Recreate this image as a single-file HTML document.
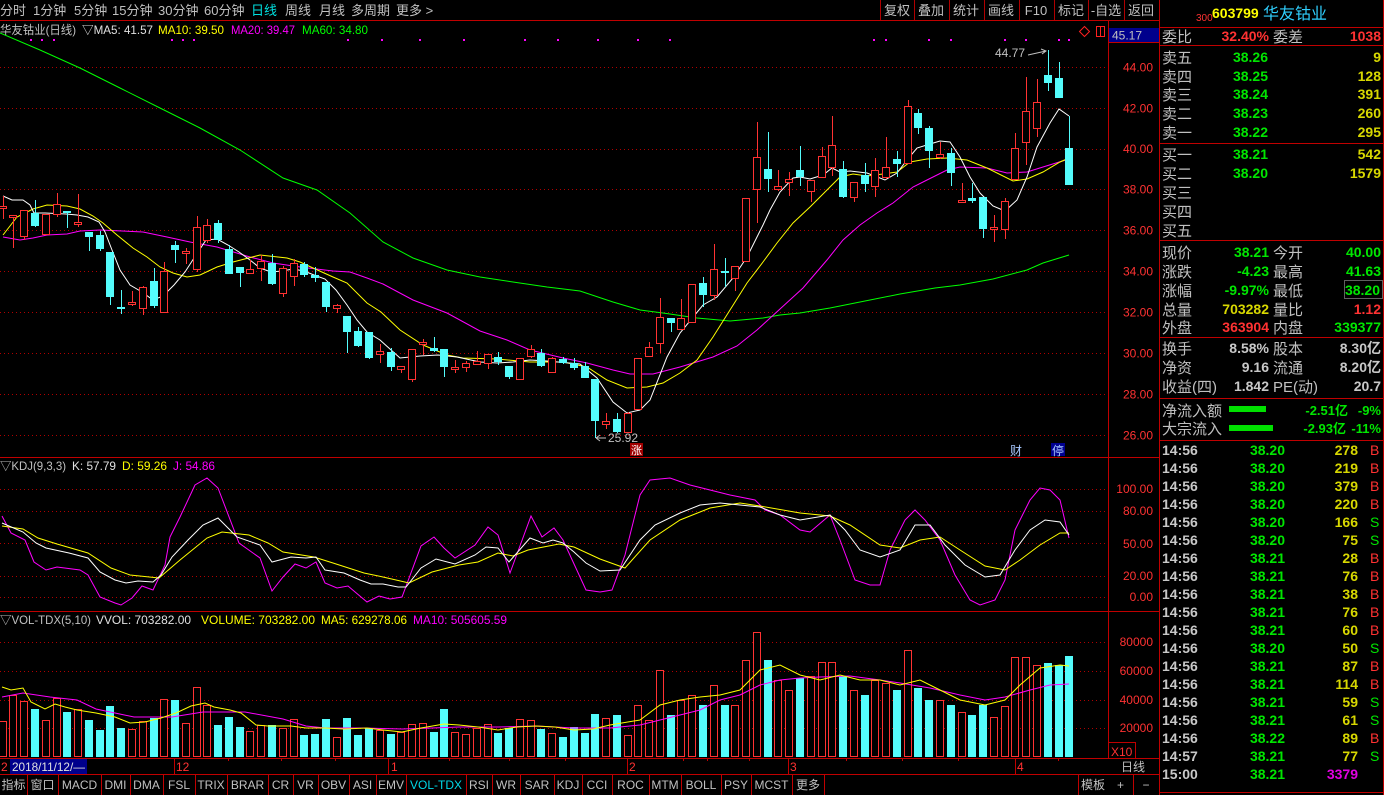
<!DOCTYPE html>
<html><head><meta charset="utf-8"><style>
html,body{margin:0;padding:0;background:#000;}
svg{display:block;}
text{font-family:'Liberation Sans','Noto Sans CJK SC',sans-serif;}
.g{fill:#c0c0c0}
.r{fill:#ff3232}
.gr{fill:#00e600}
.y{fill:#d8d800}
.w{fill:#c8c8c8}
.ax{fill:#ff3232;font-size:12px}
.pn{font-size:15px;fill:#c0c0c0}
.nb{font-size:14px;font-weight:bold}
.tb{font-size:12px;fill:#c0c0c0;text-anchor:middle}
</style></head><body>
<svg width="1384" height="795" viewBox="0 0 1384 795" xmlns="http://www.w3.org/2000/svg">
<rect x="0" y="0" width="1384" height="795" fill="#000"/>

<!-- top toolbar -->
<g font-size="13" class="g">
<text x="0" y="15" class="g">分时</text>
<text x="33" y="15" class="g">1分钟</text>
<text x="74" y="15" class="g">5分钟</text>
<text x="112" y="15" class="g">15分钟</text>
<text x="158" y="15" class="g">30分钟</text>
<text x="204" y="15" class="g">60分钟</text>
<text x="251" y="15" fill="#00e0e0">日线</text>
<text x="285" y="15" class="g">周线</text>
<text x="319" y="15" class="g">月线</text>
<text x="351" y="15" class="g">多周期</text>
<text x="396" y="15" class="g">更多 &gt;</text>
</g>
<g font-size="13" class="g" text-anchor="middle">
<text x="897" y="15" class="g">复权</text>
<text x="931" y="15" class="g">叠加</text>
<text x="966" y="15" class="g">统计</text>
<text x="1001" y="15" class="g">画线</text>
<text x="1036" y="15" class="g">F10</text>
<text x="1071" y="15" class="g">标记</text>
<text x="1106" y="15" class="g">-自选</text>
<text x="1141" y="15" class="g">返回</text>
</g>
<path d="M880.5 0V20M914.5 0V20M949.5 0V20M984.5 0V20M1019.5 0V20M1054.5 0V20M1088.5 0V20M1124.5 0V20" stroke="#b00000" shape-rendering="crispEdges"/>

<!-- frame lines -->
<g stroke="#c00000" shape-rendering="crispEdges" fill="none">
<path d="M0 20.5H1159M0 457.5H1159M0 611.5H1159M0 758.5H1159M0 774.5H1159"/>
<path d="M1108.5 21V758M1159.5 0V795M1383.5 0V795"/>
<path d="M1160 27.5H1384M1160 45.5H1384M1160 143.5H1384M1160 240.5H1384M1160 337.5H1384M1160 398.5H1384M1160 440.5H1384M1160 792.5H1384"/>
<path d="M1108 42.5H1159"/>
<path d="M1135.5 742V758M1108 742.5H1135"/>
<path d="M174.5 758V774M388.5 758V774M627.5 758V774M788.5 758V774M1015.5 758V774"/>
<path d="M228.5 758V761M281.5 758V761M335.5 758V761M449.5 758V761M509.5 758V761M565.5 758V761M683.5 758V761M707.5 758V761M749.5 758V761M846.5 758V761M902.5 758V761M958.5 758V761M1058.5 758V761"/>
<path d="M27.5 775V795M58.5 775V795M101.5 775V795M130.5 775V795M163.5 775V795M195.5 775V795M227.5 775V795M268.5 775V795M293.5 775V795M318.5 775V795M349.5 775V795M376.5 775V795M406.5 775V795M466.5 775V795M492.5 775V795M520.5 775V795M554.5 775V795M582.5 775V795M612.5 775V795M649.5 775V795M681.5 775V795M721.5 775V795M751.5 775V795M792.5 775V795M824.5 775V795M1078.5 775V795M1133.5 775V795"/>
</g>

<!-- grids -->
<g stroke="#b00000" stroke-dasharray="1 3" shape-rendering="crispEdges">
<path d="M0 67.5H1108M0 108.5H1108M0 149.5H1108M0 189.5H1108M0 230.5H1108M0 271.5H1108M0 312.5H1108M0 353.5H1108M0 394.5H1108M0 435.5H1108"/>
<path d="M0 489.5H1108M0 511.5H1108M0 543.5H1108M0 576.5H1108M0 597.5H1108"/>
<path d="M0 642.5H1108M0 671.5H1108M0 700.5H1108M0 728.5H1108"/>
</g>

<!-- main header -->
<g font-size="12">
<text x="0" y="34" class="g" textLength="76" lengthAdjust="spacingAndGlyphs">华友钴业(日线)</text>
<text x="82" y="34" fill="#e0e0e0" textLength="71" lengthAdjust="spacingAndGlyphs">▽MA5: 41.57</text>
<text x="158" y="34" fill="#ffff00" textLength="66" lengthAdjust="spacingAndGlyphs">MA10: 39.50</text>
<text x="231" y="34" fill="#ff00ff" textLength="64" lengthAdjust="spacingAndGlyphs">MA20: 39.47</text>
<text x="302" y="34" fill="#00ff00" textLength="66" lengthAdjust="spacingAndGlyphs">MA60: 34.80</text>
</g>
<g fill="#ff00ff">
<rect x="30" y="39" width="2" height="2"/><rect x="41" y="39" width="2" height="2"/><rect x="53" y="39" width="2" height="2"/>
<rect x="171" y="39" width="2" height="2"/><rect x="182" y="39" width="2" height="2"/><rect x="193" y="39" width="2" height="2"/>
<rect x="347" y="39" width="2" height="2"/><rect x="381" y="39" width="2" height="2"/><rect x="419" y="39" width="2" height="2"/>
<rect x="463" y="39" width="2" height="2"/><rect x="524" y="39" width="2" height="2"/><rect x="557" y="39" width="2" height="2"/>
<rect x="597" y="39" width="2" height="2"/><rect x="637" y="39" width="2" height="2"/><rect x="669" y="39" width="2" height="2"/>
<rect x="873" y="39" width="2" height="2"/><rect x="885" y="39" width="2" height="2"/><rect x="928" y="39" width="2" height="2"/>
<rect x="950" y="39" width="2" height="2"/><rect x="1004" y="39" width="2" height="2"/><rect x="1025" y="39" width="2" height="2"/>
<rect x="1058" y="39" width="2" height="2"/><rect x="1068" y="39" width="2" height="2"/>
</g>
<path d="M1084.5 26.5L1089.5 31.5L1084.5 36.5L1079.5 31.5Z" fill="none" stroke="#ff2020"/>
<rect x="1096.5" y="26.5" width="8" height="10" fill="none" stroke="#ff2020"/>
<path d="M1100.5 27V36" stroke="#ff2020"/>

<!-- price axis -->
<rect x="1109" y="28" width="50" height="14" fill="#00008c"/>
<text x="1112" y="39.5" font-size="12" class="g">45.17</text>
<g class="ax" text-anchor="end">
<text x="1153" y="71.5">44.00</text>
<text x="1153" y="112.5">42.00</text>
<text x="1153" y="153">40.00</text>
<text x="1153" y="193.5">38.00</text>
<text x="1153" y="234.5">36.00</text>
<text x="1153" y="275.5">34.00</text>
<text x="1153" y="316.5">32.00</text>
<text x="1153" y="357.5">30.00</text>
<text x="1153" y="398.5">28.00</text>
<text x="1153" y="439.5">26.00</text>
<text x="1153" y="493">100.00</text>
<text x="1153" y="515">80.00</text>
<text x="1153" y="548">50.00</text>
<text x="1153" y="580">20.00</text>
<text x="1153" y="601">0.00</text>
<text x="1153" y="646">80000</text>
<text x="1153" y="675">60000</text>
<text x="1153" y="704">40000</text>
<text x="1153" y="732">20000</text>
</g>
<text x="1111" y="756" font-size="12" class="r">X10</text>

<!-- MA60 -->
<polyline fill="none" stroke="#00ff00" points="0,33 40,50 80,68 120,88 160,108 200,128 240,150 283,178 317,190 350,213 383,242 413,258 447,270 480,277 513,282 547,287 580,291 613,302 640,310 663,313 697,318 730,321 763,318 780,315 800,313 830,308 870,300 900,294 935,288 960,285 993,279 1027,270 1043,263 1069,255"/>
<!-- MA20 -->
<polyline fill="none" stroke="#ff00ff" points="3,237 20,240 33,238 47,235 67,234 80,231 100,230 143,232 167,237 190,242 217,247 250,257 273,263 300,267 333,271 350,272 367,278 383,284 413,300 447,313 480,331 507,340 530,350 563,358 587,363 613,370 630,374 653,374 680,367 713,357 737,346 757,330 780,309 803,288 827,260 843,240 860,225 877,213 893,203 913,187 927,180 947,170 960,167 987,168 1007,173 1027,172 1043,167 1069,159"/>
<!-- MA10 -->
<polyline fill="none" stroke="#ffff00" points="3,235 17,217 33,209 47,205 67,206 80,209 93,216 103,223 117,235 133,248 147,257 160,267 173,273 187,277 200,275 217,267 233,262 260,255 287,258 300,262 313,268 333,277 347,283 367,303 381,312 400,330 423,345 447,355 463,358 497,359 530,362 563,362 587,367 607,380 627,388 647,387 663,383 680,373 697,360 713,337 730,310 747,283 763,262 777,243 793,223 810,207 827,190 840,177 853,174 867,176 883,174 897,172 910,162 927,159 947,158 967,160 987,168 1013,181 1027,179 1043,172 1060,162 1069,158"/>
<!-- MA5 -->
<polyline fill="none" stroke="#ffffff" points="3,196 12,200 23,200 30,205 34,213 45,213 66,214 77,215 88,217 99,222 105,232 112,250 120,270 130,285 142,292 153,300 163,296 174,285 185,272 196,255 206,240 217,239 228,245 239,252 250,260 260,268 271,272 282,271 293,269 304,271 314,275 325,279 336,290 347,305 357,320 367,332 380,340 400,358 420,356 438,355 457,357 480,362 497,363 513,362 530,360 547,361 580,364 597,378 613,402 627,413 640,410 650,400 667,357 680,333 703,305 717,297 733,278 747,257 763,225 770,210 780,192 793,178 800,177 810,179 823,175 832,168 840,172 850,171 867,173 885,180 897,173 907,160 917,148 930,144 940,141 950,142 960,157 970,177 980,193 993,206 1005,211 1017,200 1027,177 1037,147 1050,123 1059,109 1069,116"/>

<!-- candles -->
<g shape-rendering="crispEdges">
<path stroke="#ff3232" fill="none" d="M3.5 196V219M13.5 215V248M24.5 210V240M46.5 214V234M57.5 193V217M78.5 194V227M132.5 291V306M143.5 286V315M164.5 262V313M186.5 248V264M197.5 216V272M207.5 219V243M250.5 260V273M261.5 255V281M283.5 266V297M294.5 259V286M337.5 304V313M380.5 344V363M401.5 366V373M412.5 349V382M423.5 339V355M455.5 360V373M466.5 361V372M477.5 351V364M488.5 354V369M520.5 358V380M531.5 345V358M552.5 357V372M606.5 413V429M628.5 412V432M638.5 358V410M649.5 342V356M660.5 298V353M681.5 299V329M692.5 284V322M714.5 244V300M735.5 266V291M746.5 198V261M757.5 122V223M778.5 170V191M789.5 172V196M811.5 180V202M822.5 147V177M832.5 116V176M854.5 182V202M875.5 158V197M886.5 137V179M908.5 100V163M940.5 142V159M962.5 183V203M994.5 215V242M1005.5 198V239M1015.5 133V179M1026.5 77V165M1037.5 79V137"/>
<path stroke="#54fcfc" fill="none" d="M35.5 200V227M67.5 211V228M89.5 232V251M100.5 231V251M110.5 252V305M121.5 290V314M154.5 268V308M175.5 241V263M218.5 220V243M229.5 245V274M240.5 267V287M272.5 254V285M304.5 262V277M315.5 267V282M326.5 282V312M347.5 316V353M358.5 327V347M369.5 332V359M391.5 348V371M434.5 337V352M444.5 349V377M498.5 352V365M509.5 366V379M541.5 349V367M563.5 357V364M574.5 358V370M585.5 362V378M595.5 379V438M617.5 413V433M671.5 318V332M703.5 277V307M725.5 258V287M768.5 132V192M800.5 146V186M843.5 161V198M865.5 163V192M897.5 151V177M918.5 109V134M929.5 126V168M951.5 148V186M972.5 183V203M983.5 197V238M1048.5 50V91M1059.5 62V98M1069.5 116V185"/>
<g fill="#000" stroke="#ff3232">
<rect x="-0.5" y="206.5" width="7" height="2"/><rect x="9.5" y="215.5" width="7" height="2"/><rect x="20.5" y="210.5" width="7" height="26"/><rect x="42.5" y="214.5" width="7" height="20"/><rect x="53.5" y="204.5" width="7" height="10"/><rect x="74.5" y="222.5" width="7" height="2"/><rect x="128.5" y="302.5" width="7" height="2"/><rect x="139.5" y="287.5" width="7" height="21"/><rect x="160.5" y="271.5" width="7" height="41"/><rect x="182.5" y="251.5" width="7" height="2"/><rect x="193.5" y="227.5" width="7" height="42"/><rect x="203.5" y="225.5" width="7" height="15"/><rect x="246.5" y="269.5" width="7" height="4"/><rect x="257.5" y="261.5" width="7" height="7"/><rect x="279.5" y="268.5" width="7" height="25"/><rect x="290.5" y="263.5" width="7" height="13"/><rect x="333.5" y="305.5" width="7" height="3"/><rect x="376.5" y="351.5" width="7" height="3"/><rect x="397.5" y="366.5" width="7" height="3"/><rect x="408.5" y="349.5" width="7" height="30"/><rect x="419.5" y="342.5" width="7" height="2"/><rect x="451.5" y="367.5" width="7" height="2"/><rect x="462.5" y="363.5" width="7" height="4"/><rect x="473.5" y="361.5" width="7" height="3"/><rect x="484.5" y="354.5" width="7" height="9"/><rect x="516.5" y="358.5" width="7" height="21"/><rect x="527.5" y="349.5" width="7" height="7"/><rect x="548.5" y="358.5" width="7" height="14"/><rect x="602.5" y="421.5" width="7" height="3"/><rect x="624.5" y="413.5" width="7" height="19"/><rect x="634.5" y="358.5" width="7" height="51"/><rect x="645.5" y="347.5" width="7" height="9"/><rect x="656.5" y="317.5" width="7" height="26"/><rect x="677.5" y="318.5" width="7" height="11"/><rect x="688.5" y="284.5" width="7" height="38"/><rect x="710.5" y="269.5" width="7" height="26"/><rect x="731.5" y="266.5" width="7" height="12"/><rect x="742.5" y="198.5" width="7" height="63"/><rect x="753.5" y="157.5" width="7" height="32"/><rect x="774.5" y="186.5" width="7" height="3"/><rect x="785.5" y="179.5" width="7" height="3"/><rect x="807.5" y="180.5" width="7" height="11"/><rect x="818.5" y="156.5" width="7" height="21"/><rect x="828.5" y="145.5" width="7" height="22"/><rect x="850.5" y="182.5" width="7" height="15"/><rect x="871.5" y="170.5" width="7" height="16"/><rect x="882.5" y="167.5" width="7" height="10"/><rect x="904.5" y="106.5" width="7" height="57"/><rect x="936.5" y="154.5" width="7" height="3"/><rect x="958.5" y="200.5" width="7" height="2"/><rect x="990.5" y="227.5" width="7" height="2"/><rect x="1001.5" y="201.5" width="7" height="28"/><rect x="1011.5" y="148.5" width="7" height="31"/><rect x="1022.5" y="111.5" width="7" height="31"/><rect x="1033.5" y="102.5" width="7" height="26"/>
</g>
<g fill="#54fcfc">
<rect x="31" y="213" width="8" height="13"/><rect x="63" y="211" width="8" height="2"/><rect x="85" y="232" width="8" height="5"/><rect x="96" y="235" width="8" height="14"/><rect x="106" y="252" width="8" height="45"/><rect x="117" y="307" width="8" height="2"/><rect x="150" y="281" width="8" height="25"/><rect x="171" y="245" width="8" height="5"/><rect x="214" y="223" width="8" height="17"/><rect x="225" y="249" width="8" height="25"/><rect x="236" y="267" width="8" height="6"/><rect x="268" y="263" width="8" height="21"/><rect x="300" y="264" width="8" height="11"/><rect x="311" y="275" width="8" height="3"/><rect x="322" y="282" width="8" height="25"/><rect x="343" y="316" width="8" height="16"/><rect x="354" y="331" width="8" height="15"/><rect x="365" y="332" width="8" height="26"/><rect x="387" y="352" width="8" height="15"/><rect x="430" y="348" width="8" height="3"/><rect x="440" y="349" width="8" height="18"/><rect x="494" y="357" width="8" height="5"/><rect x="505" y="366" width="8" height="11"/><rect x="537" y="353" width="8" height="13"/><rect x="559" y="359" width="8" height="4"/><rect x="570" y="363" width="8" height="5"/><rect x="581" y="366" width="8" height="12"/><rect x="591" y="379" width="8" height="42"/><rect x="613" y="419" width="8" height="13"/><rect x="667" y="318" width="8" height="5"/><rect x="699" y="283" width="8" height="12"/><rect x="721" y="271" width="8" height="2"/><rect x="764" y="169" width="8" height="10"/><rect x="796" y="170" width="8" height="7"/><rect x="839" y="169" width="8" height="28"/><rect x="861" y="175" width="8" height="9"/><rect x="893" y="159" width="8" height="5"/><rect x="914" y="113" width="8" height="15"/><rect x="925" y="128" width="8" height="23"/><rect x="947" y="153" width="8" height="20"/><rect x="968" y="198" width="8" height="3"/><rect x="979" y="197" width="8" height="32"/><rect x="1044" y="75" width="8" height="8"/><rect x="1055" y="78" width="8" height="20"/><rect x="1065" y="148" width="8" height="37"/>
</g>
</g>

<!-- annotations -->
<text x="995" y="57" font-size="12" class="g">44.77</text>
<path d="M1028 55L1046 51M1041 49L1046 51L1042 54" stroke="#c0c0c0" fill="none"/>
<path d="M596 438H606M596 438L600 435M596 438L600 441" stroke="#c0c0c0" fill="none"/>
<text x="608" y="442" font-size="12" class="g">25.92</text>
<rect x="630" y="443" width="13" height="13" fill="#a00000"/>
<text x="631" y="454" font-size="11" fill="#ffffff">涨</text>
<text x="1010" y="455" font-size="12" fill="#a8c8ff">财</text>
<rect x="1051" y="443" width="14" height="13" fill="#000090"/>
<text x="1052" y="455" font-size="12" fill="#a8c8ff">停</text>

<!-- KDJ -->
<g font-size="12">
<text x="0" y="470" class="g" textLength="66" lengthAdjust="spacingAndGlyphs">▽KDJ(9,3,3)</text>
<text x="72" y="470" fill="#e0e0e0" textLength="44" lengthAdjust="spacingAndGlyphs">K: 57.79</text>
<text x="122" y="470" fill="#ffff00" textLength="45" lengthAdjust="spacingAndGlyphs">D: 59.26</text>
<text x="173" y="470" fill="#ff00ff" textLength="42" lengthAdjust="spacingAndGlyphs">J: 54.86</text>
</g>
<polyline fill="none" stroke="#ff00ff" points="2,516 11,533 25,540 34,562 46,570 57,567 80,570 88,575 100,597 115,603 121,605 132,598 142,586 153,590 165,565 170,537 180,517 195,485 207,478 218,488 239,543 260,558 272,591 283,577 295,564 306,568 316,562 325,583 337,588 348,586 367,602 379,596 390,599 402,597 421,546 434,537 444,548 455,558 475,545 488,527 498,535 510,573 531,516 542,537 554,528 563,540 586,590 600,592 612,590 625,555 640,495 650,480 670,478 690,485 710,490 730,495 755,500 765,510 780,515 800,530 810,532 830,515 840,540 855,580 870,585 880,585 890,550 905,520 915,510 925,520 940,540 955,575 970,600 980,605 995,600 1005,580 1015,530 1030,500 1040,488 1050,490 1060,500 1069,538"/>
<polyline fill="none" stroke="#ffff00" points="2,526 23,529 38,538 57,544 88,553 111,568 130,575 159,578 180,560 207,538 222,532 249,535 268,543 283,552 314,557 333,563 364,573 383,577 409,583 432,572 459,565 478,562 498,553 513,556 528,550 559,544 574,547 600,559 625,568 650,540 680,520 710,508 740,503 760,506 800,513 830,516 850,525 880,545 900,548 920,540 940,537 960,550 985,566 1005,570 1020,560 1040,545 1060,533 1069,533"/>
<polyline fill="none" stroke="#ffffff" points="2,523 23,532 36,543 46,548 69,553 88,558 100,572 115,580 126,583 138,581 153,582 161,575 172,557 188,540 203,525 218,518 230,530 237,537 260,545 272,562 291,557 306,558 316,557 325,570 344,573 360,580 371,584 383,584 398,587 406,587 421,568 436,559 455,564 475,555 486,547 498,548 509,562 530,538 543,543 553,540 563,543 574,552 586,563 600,571 620,570 640,540 655,525 680,513 700,505 720,503 760,507 780,515 800,520 830,515 845,530 860,550 880,557 900,550 915,525 930,525 945,545 965,565 985,577 1000,575 1015,550 1030,530 1045,520 1060,522 1069,535"/>

<!-- VOL -->
<g font-size="12">
<text x="0" y="624" class="g" textLength="91" lengthAdjust="spacingAndGlyphs">▽VOL-TDX(5,10)</text>
<text x="96" y="624" fill="#e0e0e0" textLength="95" lengthAdjust="spacingAndGlyphs">VVOL: 703282.00</text>
<text x="201" y="624" fill="#ffff00" textLength="114" lengthAdjust="spacingAndGlyphs">VOLUME: 703282.00</text>
<text x="321" y="624" fill="#ffff00" textLength="86" lengthAdjust="spacingAndGlyphs">MA5: 629278.06</text>
<text x="413" y="624" fill="#ff00ff" textLength="94" lengthAdjust="spacingAndGlyphs">MA10: 505605.59</text>
</g>
<g shape-rendering="crispEdges">
<g fill="#000" stroke="#ff3232">
<rect x="-0.5" y="721.5" width="7" height="35"/><rect x="9.5" y="695.5" width="7" height="61"/><rect x="20.5" y="701.5" width="7" height="55"/><rect x="42.5" y="720.5" width="7" height="36"/><rect x="53.5" y="698.5" width="7" height="58"/><rect x="74.5" y="709.5" width="7" height="47"/><rect x="128.5" y="729.5" width="7" height="27"/><rect x="139.5" y="721.5" width="7" height="35"/><rect x="160.5" y="699.5" width="7" height="57"/><rect x="182.5" y="723.5" width="7" height="33"/><rect x="193.5" y="687.5" width="7" height="69"/><rect x="203.5" y="705.5" width="7" height="51"/><rect x="246.5" y="731.5" width="7" height="25"/><rect x="257.5" y="725.5" width="7" height="31"/><rect x="279.5" y="728.5" width="7" height="28"/><rect x="290.5" y="719.5" width="7" height="37"/><rect x="333.5" y="737.5" width="7" height="19"/><rect x="376.5" y="730.5" width="7" height="26"/><rect x="397.5" y="732.5" width="7" height="24"/><rect x="408.5" y="724.5" width="7" height="32"/><rect x="419.5" y="723.5" width="7" height="33"/><rect x="451.5" y="732.5" width="7" height="24"/><rect x="462.5" y="734.5" width="7" height="22"/><rect x="473.5" y="728.5" width="7" height="28"/><rect x="484.5" y="724.5" width="7" height="32"/><rect x="516.5" y="719.5" width="7" height="37"/><rect x="527.5" y="720.5" width="7" height="36"/><rect x="548.5" y="733.5" width="7" height="23"/><rect x="602.5" y="718.5" width="7" height="38"/><rect x="624.5" y="735.5" width="7" height="21"/><rect x="634.5" y="705.5" width="7" height="51"/><rect x="645.5" y="720.5" width="7" height="36"/><rect x="656.5" y="670.5" width="7" height="86"/><rect x="677.5" y="700.5" width="7" height="56"/><rect x="688.5" y="695.5" width="7" height="61"/><rect x="710.5" y="685.5" width="7" height="71"/><rect x="731.5" y="705.5" width="7" height="51"/><rect x="742.5" y="660.5" width="7" height="96"/><rect x="753.5" y="632.5" width="7" height="124"/><rect x="774.5" y="680.5" width="7" height="76"/><rect x="785.5" y="690.5" width="7" height="66"/><rect x="807.5" y="676.5" width="7" height="80"/><rect x="818.5" y="662.5" width="7" height="94"/><rect x="828.5" y="662.5" width="7" height="94"/><rect x="850.5" y="690.5" width="7" height="66"/><rect x="871.5" y="680.5" width="7" height="76"/><rect x="882.5" y="683.5" width="7" height="73"/><rect x="904.5" y="650.5" width="7" height="106"/><rect x="936.5" y="700.5" width="7" height="56"/><rect x="958.5" y="712.5" width="7" height="44"/><rect x="990.5" y="717.5" width="7" height="39"/><rect x="1001.5" y="706.5" width="7" height="50"/><rect x="1011.5" y="657.5" width="7" height="99"/><rect x="1022.5" y="657.5" width="7" height="99"/><rect x="1033.5" y="665.5" width="7" height="91"/>
</g>
<g fill="#54fcfc">
<rect x="31" y="709" width="8" height="48"/><rect x="63" y="712" width="8" height="45"/><rect x="85" y="720" width="8" height="37"/><rect x="96" y="730" width="8" height="27"/><rect x="106" y="706" width="8" height="51"/><rect x="117" y="728" width="8" height="29"/><rect x="150" y="718" width="8" height="39"/><rect x="171" y="700" width="8" height="57"/><rect x="214" y="725" width="8" height="32"/><rect x="225" y="717" width="8" height="40"/><rect x="236" y="727" width="8" height="30"/><rect x="268" y="725" width="8" height="32"/><rect x="300" y="735" width="8" height="22"/><rect x="311" y="734" width="8" height="23"/><rect x="322" y="719" width="8" height="38"/><rect x="343" y="718" width="8" height="39"/><rect x="354" y="735" width="8" height="22"/><rect x="365" y="728" width="8" height="29"/><rect x="387" y="734" width="8" height="23"/><rect x="430" y="732" width="8" height="25"/><rect x="440" y="709" width="8" height="48"/><rect x="494" y="733" width="8" height="24"/><rect x="505" y="728" width="8" height="29"/><rect x="537" y="729" width="8" height="28"/><rect x="559" y="737" width="8" height="20"/><rect x="570" y="727" width="8" height="30"/><rect x="581" y="733" width="8" height="24"/><rect x="591" y="714" width="8" height="43"/><rect x="613" y="715" width="8" height="42"/><rect x="667" y="715" width="8" height="42"/><rect x="699" y="705" width="8" height="52"/><rect x="721" y="705" width="8" height="52"/><rect x="764" y="660" width="8" height="97"/><rect x="796" y="678" width="8" height="79"/><rect x="839" y="676" width="8" height="81"/><rect x="861" y="695" width="8" height="62"/><rect x="893" y="690" width="8" height="67"/><rect x="914" y="688" width="8" height="69"/><rect x="925" y="700" width="8" height="57"/><rect x="947" y="705" width="8" height="52"/><rect x="968" y="715" width="8" height="42"/><rect x="979" y="705" width="8" height="52"/><rect x="1044" y="663" width="8" height="94"/><rect x="1055" y="665" width="8" height="92"/><rect x="1065" y="656" width="8" height="101"/>
</g>
</g>
<polyline fill="none" stroke="#ff00ff" points="2,697 23,693 50,697 77,700 96,709 115,713 134,717 172,717 203,712 245,712 283,719 306,726 325,728 364,728 402,729 432,728 459,727 498,727 536,726 574,728 610,728 640,725 660,720 680,715 700,710 720,700 740,695 760,685 780,680 800,678 820,677 850,676 880,680 900,683 930,688 960,695 985,700 1005,697 1030,690 1050,685 1069,684"/>
<polyline fill="none" stroke="#ffff00" points="2,687 11,690 23,688 31,702 45,709 55,704 65,707 77,710 96,713 115,717 130,723 145,722 161,718 176,713 191,706 205,703 214,707 230,710 241,713 256,725 268,726 291,726 306,728 325,728 344,729 367,728 383,730 402,732 421,728 444,724 459,725 478,727 498,730 517,727 536,726 555,727 574,730 593,729 610,725 640,720 660,705 680,700 700,697 720,695 740,690 760,670 780,665 800,675 820,680 840,675 860,680 880,680 900,685 920,680 940,690 960,700 985,705 1005,700 1020,685 1040,668 1060,665 1069,666"/>

<!-- date row -->
<text x="1" y="771" font-size="12" class="r">2</text>
<rect x="10" y="759" width="77" height="15" fill="#00008c"/>
<text x="12" y="771" font-size="12" fill="#e0e0e0" textLength="73" lengthAdjust="spacingAndGlyphs">2018/11/12/—</text>
<g font-size="12" class="r">
<text x="176" y="771">12</text>
<text x="391" y="771">1</text>
<text x="629" y="771">2</text>
<text x="790" y="771">3</text>
<text x="1017" y="771">4</text>
</g>
<text x="1133" y="771" class="tb">日线</text>

<!-- bottom toolbar -->
<g>
<text x="13.5" y="789" class="tb">指标</text>
<text x="42.5" y="789" class="tb">窗口</text>
<text x="79.5" y="789" class="tb">MACD</text>
<text x="115.5" y="789" class="tb">DMI</text>
<text x="146.5" y="789" class="tb">DMA</text>
<text x="179" y="789" class="tb">FSL</text>
<text x="211" y="789" class="tb">TRIX</text>
<text x="247.5" y="789" class="tb">BRAR</text>
<text x="280.5" y="789" class="tb">CR</text>
<text x="305.5" y="789" class="tb">VR</text>
<text x="333.5" y="789" class="tb">OBV</text>
<text x="362.5" y="789" class="tb">ASI</text>
<text x="391" y="789" class="tb">EMV</text>
<text x="436" y="789" class="tb" style="fill:#00d8e8">VOL-TDX</text>
<text x="479" y="789" class="tb">RSI</text>
<text x="506" y="789" class="tb">WR</text>
<text x="537" y="789" class="tb">SAR</text>
<text x="568" y="789" class="tb">KDJ</text>
<text x="597" y="789" class="tb">CCI</text>
<text x="630.5" y="789" class="tb">ROC</text>
<text x="665" y="789" class="tb">MTM</text>
<text x="701" y="789" class="tb">BOLL</text>
<text x="736" y="789" class="tb">PSY</text>
<text x="771.5" y="789" class="tb">MCST</text>
<text x="808" y="789" class="tb">更多</text>
<text x="1093" y="789" class="tb">模板</text>
<text x="1120.5" y="789" class="tb">+</text>
<text x="1146" y="789" class="tb">−</text>
</g>

<!-- right panel header -->
<text x="1196" y="21" font-size="10" class="r">300</text>
<text x="1212" y="18" font-size="14" font-weight="bold" fill="#ffff00">603799</text>
<text x="1263" y="19" font-size="16" fill="#30d0ff">华友钴业</text>
<text x="1162" y="42" class="pn">委比</text>
<text x="1269" y="41" class="nb r" text-anchor="end">32.40%</text>
<text x="1273" y="42" class="pn">委差</text>
<text x="1381" y="41" class="nb r" text-anchor="end">1038</text>

<!-- order book -->
<g class="pn">
<text x="1162" y="63">卖五</text><text x="1162" y="82">卖四</text><text x="1162" y="100">卖三</text><text x="1162" y="119">卖二</text><text x="1162" y="138">卖一</text>
<text x="1162" y="160">买一</text><text x="1162" y="179">买二</text><text x="1162" y="198">买三</text><text x="1162" y="217">买四</text><text x="1162" y="236">买五</text>
</g>
<g class="nb gr" text-anchor="end">
<text x="1268" y="62">38.26</text><text x="1268" y="81">38.25</text><text x="1268" y="99">38.24</text><text x="1268" y="118">38.23</text><text x="1268" y="137">38.22</text>
<text x="1268" y="159">38.21</text><text x="1268" y="178">38.20</text>
</g>
<g class="nb y" text-anchor="end">
<text x="1381" y="62">9</text><text x="1381" y="81">128</text><text x="1381" y="99">391</text><text x="1381" y="118">260</text><text x="1381" y="137">295</text>
<text x="1381" y="159">542</text><text x="1381" y="178">1579</text>
</g>

<!-- stats -->
<g class="pn">
<text x="1162" y="258">现价</text><text x="1162" y="277">涨跌</text><text x="1162" y="296">涨幅</text><text x="1162" y="315">总量</text><text x="1162" y="333">外盘</text>
<text x="1273" y="258">今开</text><text x="1273" y="277">最高</text><text x="1273" y="296">最低</text><text x="1273" y="315">量比</text><text x="1273" y="333">内盘</text>
<text x="1162" y="354">换手</text><text x="1162" y="373">净资</text><text x="1162" y="392">收益(四)</text>
<text x="1273" y="354">股本</text><text x="1273" y="373">流通</text><text x="1273" y="392">PE(动)</text>
<text x="1162" y="416">净流入额</text><text x="1162" y="434">大宗流入</text>
</g>
<rect x="1344.5" y="280.5" width="38" height="18" fill="none" stroke="#606060"/>
<g class="nb" text-anchor="end">
<text x="1269" y="257" class="gr">38.21</text>
<text x="1269" y="276" class="gr">-4.23</text>
<text x="1269" y="295" class="gr">-9.97%</text>
<text x="1269" y="314" class="y">703282</text>
<text x="1269" y="332" class="r">363904</text>
<text x="1381" y="257" class="gr">40.00</text>
<text x="1381" y="276" class="gr">41.63</text>
<text x="1380" y="295" class="gr">38.20</text>
<text x="1381" y="314" class="r">1.12</text>
<text x="1381" y="332" class="gr">339377</text>
<text x="1269" y="353" class="w">8.58%</text>
<text x="1269" y="372" class="w">9.16</text>
<text x="1269" y="391" class="w">1.842</text>
<text x="1381" y="353" class="w">8.30亿</text>
<text x="1381" y="372" class="w">8.20亿</text>
<text x="1381" y="391" class="w">20.7</text>
</g>
<g font-size="13" font-weight="bold" text-anchor="end" class="gr">
<text x="1348" y="415" class="gr">-2.51亿</text>
<text x="1381" y="415" class="gr">-9%</text>
<text x="1346" y="433" class="gr">-2.93亿</text>
<text x="1381" y="433" class="gr">-11%</text>
</g>
<rect x="1229" y="406" width="37" height="6" fill="#00e000"/>
<rect x="1229" y="425" width="44" height="6" fill="#00e000"/>

<!-- trades -->
<g class="nb">
<g class="w">
<text x="1162" y="455">14:56</text><text x="1162" y="473">14:56</text><text x="1162" y="491">14:56</text><text x="1162" y="509">14:56</text><text x="1162" y="527">14:56</text><text x="1162" y="545">14:56</text><text x="1162" y="563">14:56</text><text x="1162" y="581">14:56</text><text x="1162" y="599">14:56</text><text x="1162" y="617">14:56</text><text x="1162" y="635">14:56</text><text x="1162" y="653">14:56</text><text x="1162" y="671">14:56</text><text x="1162" y="689">14:56</text><text x="1162" y="707">14:56</text><text x="1162" y="725">14:56</text><text x="1162" y="743">14:56</text><text x="1162" y="761">14:57</text><text x="1162" y="779">15:00</text>
</g>
<g class="gr" text-anchor="end">
<text x="1285" y="455">38.20</text><text x="1285" y="473">38.20</text><text x="1285" y="491">38.20</text><text x="1285" y="509">38.20</text><text x="1285" y="527">38.20</text><text x="1285" y="545">38.20</text><text x="1285" y="563">38.21</text><text x="1285" y="581">38.21</text><text x="1285" y="599">38.21</text><text x="1285" y="617">38.21</text><text x="1285" y="635">38.21</text><text x="1285" y="653">38.20</text><text x="1285" y="671">38.21</text><text x="1285" y="689">38.21</text><text x="1285" y="707">38.21</text><text x="1285" y="725">38.21</text><text x="1285" y="743">38.22</text><text x="1285" y="761">38.21</text><text x="1285" y="779">38.21</text>
</g>
<g class="y" text-anchor="end">
<text x="1358" y="455">278</text><text x="1358" y="473">219</text><text x="1358" y="491">379</text><text x="1358" y="509">220</text><text x="1358" y="527">166</text><text x="1358" y="545">75</text><text x="1358" y="563">28</text><text x="1358" y="581">76</text><text x="1358" y="599">38</text><text x="1358" y="617">76</text><text x="1358" y="635">60</text><text x="1358" y="653">50</text><text x="1358" y="671">87</text><text x="1358" y="689">114</text><text x="1358" y="707">59</text><text x="1358" y="725">61</text><text x="1358" y="743">89</text><text x="1358" y="761">77</text>
</g>
<text x="1358" y="779" text-anchor="end" fill="#e000e0">3379</text>
<g font-weight="normal" font-size="14">
<text x="1370" y="455" class="r">B</text><text x="1370" y="473" class="r">B</text><text x="1370" y="491" class="r">B</text><text x="1370" y="509" class="r">B</text><text x="1370" y="527" class="gr">S</text><text x="1370" y="545" class="gr">S</text><text x="1370" y="563" class="r">B</text><text x="1370" y="581" class="r">B</text><text x="1370" y="599" class="r">B</text><text x="1370" y="617" class="r">B</text><text x="1370" y="635" class="r">B</text><text x="1370" y="653" class="gr">S</text><text x="1370" y="671" class="r">B</text><text x="1370" y="689" class="r">B</text><text x="1370" y="707" class="gr">S</text><text x="1370" y="725" class="gr">S</text><text x="1370" y="743" class="r">B</text><text x="1370" y="761" class="gr">S</text>
</g>
</g>
</svg>
</body></html>
